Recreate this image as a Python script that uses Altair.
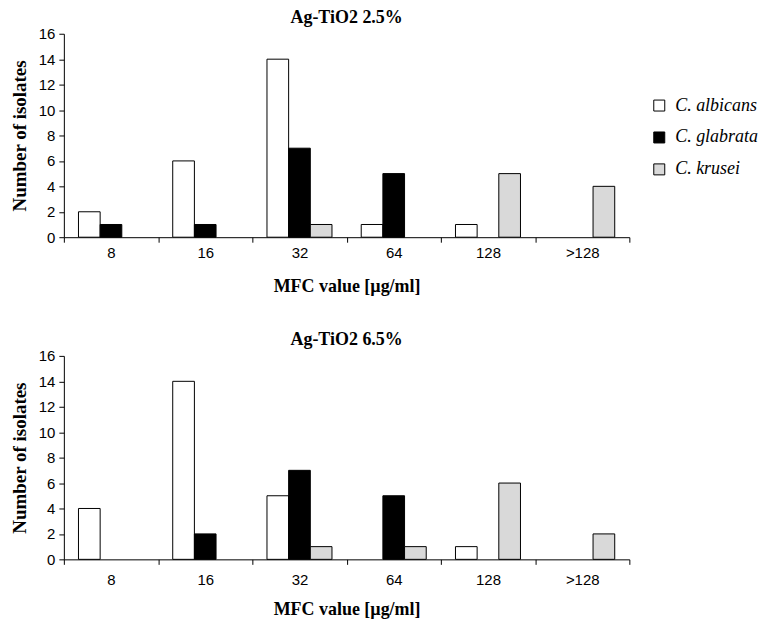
import altair as alt
import pandas as pd

categories = ["8", "16", "32", "64", "128", ">128"]
species = ["C. albicans", "C. glabrata", "C. krusei"]
colors = ["#ffffff", "#000000", "#d9d9d9"]

panels = ["Ag-TiO2 2.5%", "Ag-TiO2 6.5%"]

top_albicans = [2, 6, 14, 1, 1, 0]
top_glabrata = [1, 1, 7, 5, 0, 0]
top_krusei = [0, 0, 1, 0, 5, 4]

bot_albicans = [4, 14, 5, 0, 1, 0]
bot_glabrata = [0, 2, 7, 5, 0, 0]
bot_krusei = [0, 0, 1, 1, 6, 2]

series = {
    panels[0]: [top_albicans, top_glabrata, top_krusei],
    panels[1]: [bot_albicans, bot_glabrata, bot_krusei],
}

rows = []
for p, vals in series.items():
    for s, v in zip(species, vals):
        for c, n in zip(categories, v):
            rows.append({"panel": p, "species": s, "mfc": c, "count": n})
df = pd.DataFrame(rows)


def panel_chart(name, label_pad, title_pad):
    return (
        alt.Chart(df)
        .transform_filter((alt.datum.panel == name) & (alt.datum.count > 0))
        .mark_bar(stroke="black", strokeWidth=1)
        .encode(
            x=alt.X(
                "mfc:N",
                sort=categories,
                scale=alt.Scale(domain=categories, paddingInner=0, paddingOuter=0),
                axis=alt.Axis(
                    title="MFC value [µg/ml]",
                    labelAngle=0,
                    tickBand="extent",
                    labelPadding=label_pad,
                    titlePadding=title_pad,
                ),
            ),
            xOffset=alt.XOffset(
                "species:N",
                sort=species,
                scale=alt.Scale(domain=species, paddingInner=0, paddingOuter=0.675),
            ),
            y=alt.Y(
                "count:Q",
                scale=alt.Scale(domain=[0, 16]),
                axis=alt.Axis(title="Number of isolates", values=list(range(0, 17, 2))),
            ),
            fill=alt.Fill(
                "species:N",
                sort=species,
                scale=alt.Scale(domain=species, range=colors),
                legend=alt.Legend(
                    title=None,
                    orient="none",
                    legendX=588,
                    legendY=63,
                    padding=0,
                    symbolType="square",
                    symbolSize=121,
                    symbolStrokeColor="black",
                    symbolStrokeWidth=1,
                    labelFont="Liberation Serif",
                    labelFontStyle="italic",
                    labelFontSize=18,
                    labelColor="black",
                    rowPadding=14,
                    labelOffset=7,
                ),
            ),
        )
        .properties(
            width=567,
            height=204,
            title=alt.TitleParams(name, anchor="middle", offset=0),
        )
    )


chart = (
    alt.vconcat(
        panel_chart(panels[0], 3, 17),
        panel_chart(panels[1], 8, 13),
        spacing=36,
    )
    .configure_view(stroke=None)
    .configure_axis(
        grid=False,
        domainColor="black",
        tickColor="black",
        tickSize=5,
        labelFont="Liberation Sans",
        labelFontSize=15,
        labelColor="black",
        titleFont="Liberation Serif",
        titleFontWeight="bold",
        titleColor="black",
    )
    .configure_axisX(titleFontSize=18)
    .configure_axisY(labelPadding=4, titlePadding=9, titleFontSize=19)
    .configure_title(
        font="Liberation Serif", fontSize=18, fontWeight="bold", color="black"
    )
    .properties(
        background="white",
        padding={"left": 2, "top": 0, "right": 0, "bottom": 0},
    )
)

chart.save("out.html", embed_options={"renderer": "svg", "actions": False})
